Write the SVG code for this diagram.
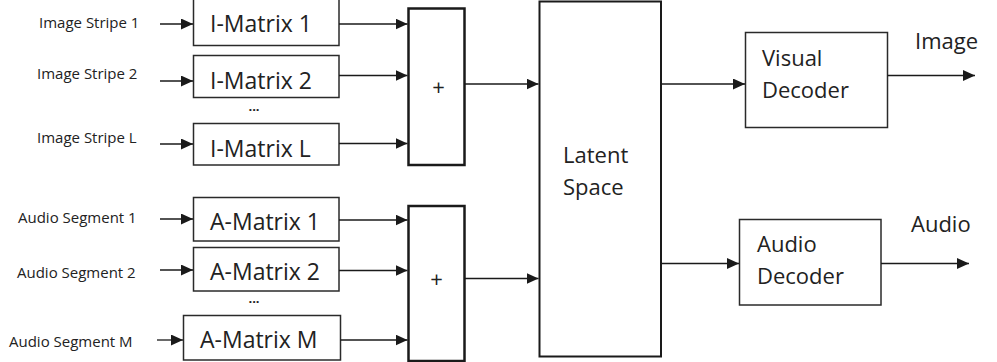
<svg xmlns="http://www.w3.org/2000/svg" width="997" height="362" viewBox="0 0 997 362">
<defs>
<marker id="ah" markerUnits="userSpaceOnUse" markerWidth="12" markerHeight="11" refX="12" refY="5.5" orient="auto">
<path d="M0,0 L12,5.5 L0,11 z" fill="#1a1a1a"/>
</marker>
<style>
.box{fill:#fff;stroke:#2a2a2a;stroke-width:1.5}
.sum{fill:#fff;stroke:#1a1a1a;stroke-width:2.5}
.lat{fill:#fff;stroke:#1a1a1a;stroke-width:2}
.c{fill:none;stroke:#1a1a1a;stroke-width:1.3;marker-end:url(#ah)}
text{font-family:"Open Sans","Noto Sans","Liberation Sans",sans-serif;fill:#222}
.sm{font-size:15px}
.dt{font-size:13px;font-weight:bold}
.lg{font-size:22px}
.mx{font-size:23px}
.pl{font-size:22px}
</style>
</defs>
<rect width="997" height="362" fill="#fff"/>

<g id="labels-in">
<text class="sm" x="39" y="28">Image Stripe 1</text>
<text class="sm" x="37" y="79">Image Stripe 2</text>
<text class="sm" x="37" y="143">Image Stripe L</text>
<text class="sm" x="18" y="223">Audio Segment 1</text>
<text class="sm" x="17" y="278">Audio Segment 2</text>
<text class="sm" x="9" y="347">Audio Segment M</text>
</g>

<g id="imatrix1"><rect class="box" x="193.5" y="-1" width="145.5" height="46.5"/><text class="mx" x="210" y="32">I-Matrix 1</text></g>
<g id="imatrix2"><rect class="box" x="193.5" y="55.5" width="145.5" height="42"/><text class="mx" x="210" y="89">I-Matrix 2</text></g>
<text class="dt" x="254" y="110.5" text-anchor="middle">...</text>
<g id="imatrixL"><rect class="box" x="193.5" y="123.5" width="145.5" height="41.5"/><text class="mx" x="210" y="157">I-Matrix L</text></g>

<g id="amatrix1"><rect class="box" x="193.5" y="197.5" width="145.5" height="43.5"/><text class="mx" x="210" y="230">A-Matrix 1</text></g>
<g id="amatrix2"><rect class="box" x="193.5" y="247.5" width="145.5" height="43.5"/><text class="mx" x="210" y="280">A-Matrix 2</text></g>
<text class="dt" x="254" y="302.5" text-anchor="middle">...</text>
<g id="amatrixM"><rect class="box" x="183.5" y="315.5" width="157" height="44.5"/><text class="mx" x="200" y="348">A-Matrix M</text></g>

<g id="sum-image"><rect class="sum" x="408.5" y="8.5" width="56" height="156.5"/><text class="pl" x="438.5" y="95" text-anchor="middle">+</text></g>
<g id="sum-audio"><rect class="sum" x="408.5" y="206" width="56" height="155"/><text class="pl" x="436.5" y="287" text-anchor="middle">+</text></g>

<g id="latent"><rect class="lat" x="539.5" y="1.5" width="121.5" height="355"/><text class="lg" x="563" y="163">Latent</text><text class="lg" x="563" y="195">Space</text></g>

<g id="visual-decoder"><rect class="box" x="745.5" y="32.5" width="142" height="95"/><text class="lg" x="762" y="66">Visual</text><text class="lg" x="762" y="98">Decoder</text></g>
<g id="audio-decoder"><rect class="box" x="739.5" y="219.5" width="141.5" height="85.5"/><text class="lg" x="757" y="252">Audio</text><text class="lg" x="757" y="284">Decoder</text></g>

<g id="labels-out">
<text class="lg" x="915" y="49">Image</text>
<text class="lg" x="911" y="232">Audio</text>
</g>

<g id="connectors">
<line class="c" x1="160" y1="24" x2="193" y2="24"/>
<line class="c" x1="160" y1="81" x2="193" y2="81"/>
<line class="c" x1="160" y1="144" x2="193" y2="144"/>
<line class="c" x1="160" y1="219" x2="193" y2="219"/>
<line class="c" x1="160" y1="270" x2="193" y2="270"/>
<line class="c" x1="157" y1="340" x2="183" y2="340"/>
<line class="c" x1="339" y1="24" x2="407.5" y2="24"/>
<line class="c" x1="339" y1="75.5" x2="407.5" y2="75.5"/>
<line class="c" x1="339" y1="143.5" x2="407.5" y2="143.5"/>
<line class="c" x1="339" y1="220" x2="407.5" y2="220"/>
<line class="c" x1="339" y1="270.5" x2="407.5" y2="270.5"/>
<line class="c" x1="340.5" y1="340" x2="407.5" y2="340"/>
<line class="c" x1="464.5" y1="84" x2="538.5" y2="84"/>
<line class="c" x1="464.5" y1="278.5" x2="538.5" y2="278.5"/>
<line class="c" x1="661" y1="84" x2="745" y2="84"/>
<line class="c" x1="661" y1="263.5" x2="739" y2="263.5"/>
<line class="c" x1="887.5" y1="75.5" x2="975" y2="75.5"/>
<line class="c" x1="881" y1="263.5" x2="969" y2="263.5"/>
</g>
</svg>
